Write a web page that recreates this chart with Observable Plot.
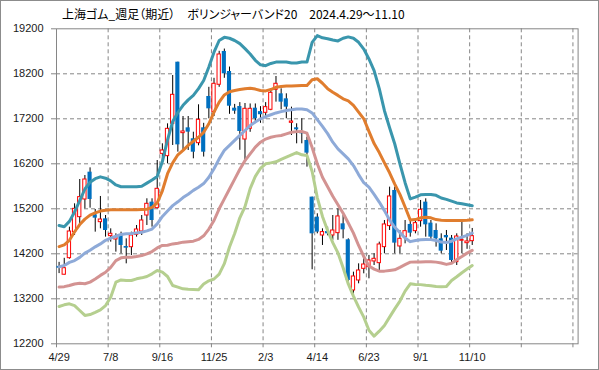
<!DOCTYPE html>
<html><head><meta charset="utf-8">
<script src="https://cdn.jsdelivr.net/npm/d3@7"></script>
<script src="https://cdn.jsdelivr.net/npm/@observablehq/plot@0.6"></script>
<style>
body{margin:0;background:#fff;}
#wrap{position:relative;width:599px;height:370px;overflow:hidden;background:#fff;}
#chart{position:absolute;left:0;top:0;}
#title{position:absolute;left:62px;top:7px;font-family:"Noto Sans CJK JP";font-size:12px;line-height:14px;color:#000;white-space:pre;font-feature-settings:"palt";}
#border{position:absolute;left:0;top:0;width:599px;height:370px;box-sizing:border-box;border:1px solid #8c8c8c;pointer-events:none;}
</style></head>
<body>
<div id="wrap"><div id="chart"></div><div id="title">上海ゴム_週足（期近）　ボリンジャーバンド20　2024.4.29～11.10</div><div id="border"></div></div>
<script>
// weekly candles, index 0 = 2024/4/29
const open = [13920,13735,14103,14681,15014,15407,16014,15066,14903,14977, 14592,14518,14622,14362,14347,14622,14696,15051,15348,15214, 16421,16370,17088,18458,16881,16999,16756,16658,17000,17696, 17347,17956,18696,18251,17436,17473,16740,16977,17436,17360, 17333,17400,17844,17755,17644,17111,17000,16903,16718,15459, 15015,14607,14696,14607,14659,14866,14511,13385,13607,13866, 13903,14030,13992,14348,14815,15607,14363,14570,14852,14703, 14926,15348,14881,14718,14533,14607,14548,14015,14490,14436,14481];
const close = [13880,13880,14696,15199,15459,15851,15407,14992,14962,14718, 14644,14570,14385,14325,14607,14740,14940,15311,14940,15644, 16496,16977,17733,16621,16918,16903,16458,17178,16458,17422, 17978,18629,18200,17480,17369,16918,17422,17422,17200,17290, 17459,17777,17978,17570,17459,17140,16955,16866,16437,14644, 14682,14682,14644,14718,15030,14733,13607,13696,13829,13962, 14052,14089,14407,14852,15474,14437,14533,14703,14659,14881, 15178,14844,14570,14533,14259,14555,14052,14585,14510,14474,14592];
const high = [14010,14100,14792,15311,15851,15940,16110,15185,15474,15051, 14755,14644,14681,14533,14681,14829,15051,15422,15422,16273, 16644,17088,18162,18458,17251,17251,16902,17511,17100,17900, 18100,18700,18750,18350,17520,17560,17540,17530,17530,17470, 17560,17866,18140,17866,17755,17459,17089,17200,16792,15459, 15089,14755,14792,15051,15200,15051,14533,13792,13977,14126, 14163,14200,14459,14940,15681,15681,14718,14940,14977,14977, 15385,15422,14940,14866,14644,14718,14607,14644,14903,14644,14763];
const low = [13760,13730,14080,14607,14829,15199,15214,14681,14755,14570, 14459,14237,14200,13977,14162,14570,14607,14829,14792,15199, 16273,16199,16607,16459,16496,16496,16311,16600,16350,17200, 17250,17900,18100,17300,17300,16500,16270,16900,17100,17100, 17200,17380,17570,17400,17200,16830,16644,16644,16126,13845, 14644,14385,14600,14500,14500,14533,13496,13274,13533,13755, 13644,13940,13829,14200,14718,14200,14200,14422,14570,14644, 14792,14570,14496,14348,14200,14274,13977,13940,14200,14300,14385];

// Bollinger bands (20)
const upper2 = [14830,14800,14920,15130,15380,15640,15790,15870,15910,15880, 15820,15730,15690,15690,15690,15690,15700,15770,15840,15920, 16250,16730,17140,17340,17500,17620,17720,17870,18050,18350, 18680,18940,19010,18990,18940,18870,18760,18640,18500,18400, 18380,18430,18460,18460,18460,18440,18440,18460,18460,18900, 19050,19000,18980,18950,18930,18990,19020,18990,18900,18750, 18530,18270,17870,17380,17000,16640,16200,15780,15420,15460, 15510,15520,15520,15500,15440,15410,15370,15330,15310,15290,15270];
const upper1 = [14360,14400,14500,14690,14850,14970,15060,15110,15150,15170, 15180,15180,15180,15180,15180,15180,15185,15190,15230,15330, 15600,15980,16220,16400,16500,16610,16700,16790,16900,17090, 17350,17570,17730,17800,17830,17850,17870,17880,17860,17830, 17820,17850,17900,17920,17930,17930,17935,17940,17940,18070, 18090,17990,17870,17790,17720,17645,17600,17500,17350,17200, 16920,16650,16450,16220,16000,15750,15520,15240,14950,14960, 15000,15010,15000,14960,14945,14940,14940,14940,14940,14945,14955];
const middle = [13910,13940,14010,14050,14120,14215,14280,14355,14420,14500, 14550,14590,14630,14645,14650,14665,14680,14710,14750,14865, 15030,15150,15270,15355,15450,15525,15610,15680,15760,15900, 16090,16310,16500,16610,16720,16830,16940,17050,17130,17200, 17250,17290,17330,17360,17385,17400,17420,17420,17400,17330, 17180,17030,16870,16680,16530,16420,16310,16160,15960,15780, 15680,15520,15350,15160,14950,14790,14670,14550,14470,14495, 14510,14518,14515,14496,14460,14450,14480,14530,14570,14610,14660];
const lower1 = [13460,13470,13495,13530,13545,13535,13570,13640,13720,13790, 13900,14050,14110,14125,14125,14140,14160,14200,14250,14330, 14385,14390,14420,14436,14459,14470,14480,14520,14600,14750, 14940,15200,15420,15640,15860,16080,16270,16420,16570,16680, 16750,16790,16815,16830,16865,16900,16915,16918,16880,16560, 16200,15900,15690,15480,15290,15100,14885,14660,14385,14140, 13930,13860,13815,13815,13830,13845,13900,13960,14015,14020, 14020,14025,14025,14015,13995,13965,13990,14070,14140,14215,14275];
const lower2 = [13030,13066,13088,13050,12940,12830,12850,12900,12955,13050, 13236,13570,13620,13607,13607,13644,13666,13696,13755,13829, 13792,13696,13496,13459,13421,13410,13405,13400,13530,13600, 13640,13750,13980,14350,14650,15000,15250,15650,15920,16100, 16200,16221,16244,16300,16350,16400,16450,16400,16385,16030, 15450,15030,14720,14450,14220,13890,13530,13260,13014,12792, 12500,12370,12480,12607,12792,12977,13150,13370,13533,13518, 13515,13500,13490,13475,13470,13473,13607,13690,13780,13860,13940];

const tickLabels = ["4/29","7/8","9/16","11/25","2/3","4/14","6/23","9/1","11/10"];
const yTicks = [12200,13200,14200,15200,16200,17200,18200,19200];
const totalSlots = 101; // category slots on the x axis
const labelEvery = 10;

const candles = open.map((o, i) => ({i, open:o, close:close[i], high:high[i], low:low[i]}));
const up = candles.filter(d => d.close >= d.open);
const down = candles.filter(d => d.close < d.open);

const bands = [
  {name:"upper2", values: upper2, color:"#3a96ad"},
  {name:"upper1", values: upper1, color:"#e07d2e"},
  {name:"middle", values: middle, color:"#8eaad8"},
  {name:"lower1", values: lower1, color:"#d39392"},
  {name:"lower2", values: lower2, color:"#b5cf8f"}
];
const bandRows = bands.flatMap(b => b.values.map((v, i) => ({name:b.name, i, v, color:b.color})));

const gridX = d3.range(0, totalSlots, labelEvery).map(k => k - 0.5);
const labelIdx = tickLabels.map((_, k) => k * labelEvery);
const grid = "#868686";

const chart = Plot.plot({
  width: 599, height: 370,
  marginLeft: 56, marginRight: 21.4, marginTop: 28.3, marginBottom: 26.7,
  x: {type: "linear", domain: [-0.5, totalSlots - 0.5]},
  y: {domain: [yTicks[0], yTicks[yTicks.length - 1]]},
  style: {background: "transparent", maxWidth: "none", overflow: "visible", fontFamily: "'Liberation Sans', Arial, sans-serif", fontSize: "11px", color: "#1a1a1a"},
  marks: [
    Plot.ruleY(yTicks.slice(1, -1), {stroke: grid, strokeDasharray: "4,3", strokeWidth: 1}),
    Plot.ruleX(gridX.slice(1), {stroke: grid, strokeDasharray: "4,3", strokeWidth: 1}),
    Plot.frame({stroke: grid, strokeWidth: 1}),
    Plot.axisY({ticks: yTicks, tickSize: 5, tickPadding: 8, tickFormat: d => String(d), label: null, stroke: grid, strokeOpacity: 1}),
    Plot.axisX({ticks: gridX, tickSize: 4, tickFormat: () => "", label: null, stroke: grid, strokeOpacity: 1}),
    Plot.axisX({ticks: labelIdx, tickSize: 0, tickPadding: 9, tickFormat: (d, k) => tickLabels[k], label: null}),
    Plot.ruleX(candles, {x: "i", y1: "low", y2: "high", stroke: "#000", strokeWidth: 1}),
    Plot.rect(down, {x1: d => d.i - 0.4, x2: d => d.i + 0.4, y1: "open", y2: "close", fill: "#0070c0"}),
    Plot.rect(up, {x1: d => d.i - 0.32, x2: d => d.i + 0.32, y1: "open", y2: "close", fill: "#fff", stroke: "#ff0000", strokeWidth: 1}),
    Plot.line(bandRows, {x: "i", y: "v", z: "name", stroke: "color", strokeWidth: 3, strokeLinejoin: "round", strokeLinecap: "round"})
  ]
});
document.getElementById("chart").appendChild(chart);
</script>
</body></html>
